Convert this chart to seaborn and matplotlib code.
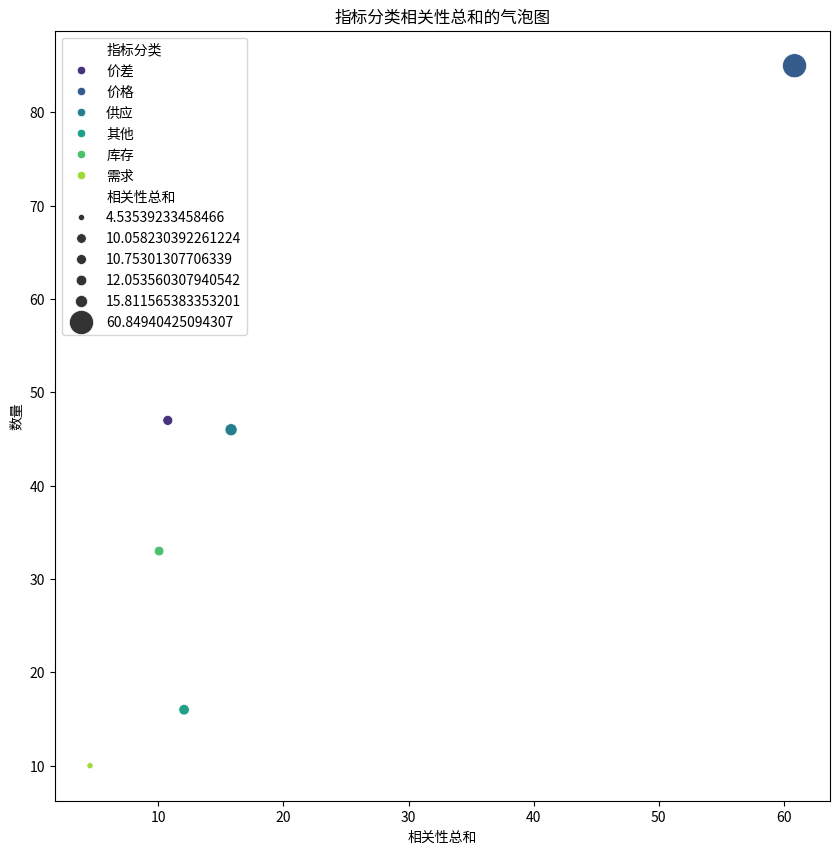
import pandas as pd
import matplotlib
matplotlib.use("Agg")
import matplotlib.pyplot as plt
import seaborn as sns

# data
categories = ["价差", "价格", "供应", "其他", "库存", "需求"]
corr_sum = [10.75301307706339, 60.84940425094307, 15.811565383353201,
            12.053560307940542, 10.058230392261224, 4.53539233458466]
counts = [47, 85, 46, 16, 33, 10]

df = pd.DataFrame({"指标分类": categories, "相关性总和": corr_sum, "数量": counts})

plt.rcParams['font.family'] = ['Noto Sans CJK SC', 'DejaVu Sans']
plt.rcParams['axes.unicode_minus'] = False

plt.figure(figsize=(10, 10))
sns.scatterplot(data=df, x="相关性总和", y="数量", hue="指标分类",
                size="相关性总和", sizes=(20, 300), palette="viridis", legend="full")
plt.title("指标分类相关性总和的气泡图")
plt.xlabel("相关性总和")
plt.ylabel("数量")
plt.legend(loc="upper left")
plt.savefig("out.png", dpi=100, bbox_inches="tight")
